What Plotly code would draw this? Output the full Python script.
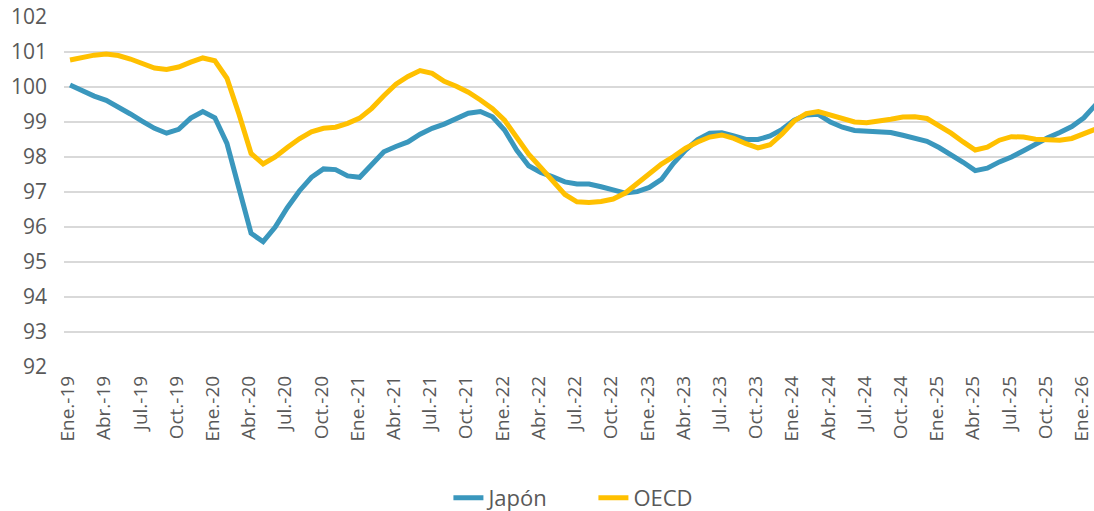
import plotly.graph_objects as go

months = ["Ene.", "Feb.", "Mar.", "Abr.", "May.", "Jun.", "Jul.", "Ago.", "Sep.", "Oct.", "Nov.", "Dic."]
years = list(range(19, 27))
categories = [f"{m}-{y}" for y in years for m in months][:86]

japon = [100.06, 99.90, 99.74, 99.62, 99.44, 99.23, 99.02, 98.82, 98.68, 98.79,
         99.11, 99.30, 99.12, 98.39, 97.10, 95.82, 95.58, 96.00, 96.55, 97.03,
         97.42, 97.66, 97.64, 97.46, 97.42, 97.77, 98.15, 98.30, 98.43, 98.65,
         98.82, 98.94, 99.09, 99.25, 99.30, 99.15, 98.77, 98.20, 97.75, 97.56,
         97.43, 97.29, 97.23, 97.23, 97.15, 97.05, 96.97, 97.01, 97.13, 97.36,
         97.82, 98.20, 98.50, 98.68, 98.69, 98.60, 98.50, 98.50, 98.60, 98.79,
         99.05, 99.20, 99.22, 99.00, 98.85, 98.76, 98.74, 98.72, 98.70, 98.62,
         98.55, 98.45, 98.27, 98.08, 97.85, 97.61, 97.68, 97.86, 98.00, 98.18,
         98.37, 98.55, 98.70, 98.87, 99.12, 99.50]

oecd = [100.77, 100.85, 100.91, 100.94, 100.90, 100.80, 100.68, 100.54, 100.50, 100.57,
        100.71, 100.83, 100.75, 100.25, 99.22, 98.10, 97.80, 98.00, 98.27, 98.52,
        98.72, 98.82, 98.85, 98.96, 99.11, 99.39, 99.75, 100.08, 100.30, 100.47,
        100.39, 100.16, 100.02, 99.85, 99.63, 99.38, 99.05, 98.55, 98.08, 97.70,
        97.30, 96.93, 96.72, 96.70, 96.73, 96.80, 96.97, 97.25, 97.55, 97.80,
        98.01, 98.25, 98.43, 98.57, 98.63, 98.53, 98.38, 98.26, 98.35, 98.66,
        99.03, 99.24, 99.30, 99.20, 99.07, 99.00, 98.98, 99.02, 99.08, 99.14,
        99.15, 99.10, 98.90, 98.68, 98.43, 98.20, 98.28, 98.48, 98.58, 98.57,
        98.51, 98.48, 98.48, 98.53, 98.65, 98.80]

tick_idx = list(range(0, 85, 3))
tick_labels = [categories[i] for i in tick_idx]
x = list(range(len(categories)))

BLUE = "#3A97BD"
YELLOW = "#FFC000"
FONT = "Open Sans"
GRAY = "#595959"

fig = go.Figure()
fig.add_trace(go.Scatter(x=x, y=japon, name="Japón", mode="lines",
                         line=dict(color=BLUE, width=5), customdata=categories,
                         hovertemplate="%{customdata}: %{y}<extra>Japón</extra>"))
fig.add_trace(go.Scatter(x=x, y=oecd, name="OECD", mode="lines",
                         line=dict(color=YELLOW, width=5), customdata=categories,
                         hovertemplate="%{customdata}: %{y}<extra>OECD</extra>"))

fig.update_layout(
    width=1094, height=511,
    margin=dict(l=64, r=0, t=17, b=144, autoexpand=False),
    paper_bgcolor="white", plot_bgcolor="white",
    font=dict(family=FONT, color=GRAY, size=20),
    showlegend=True,
    legend=dict(orientation="h", x=0.514, xanchor="center", y=-0.374, yanchor="middle",
                font=dict(size=22, color=GRAY, family=FONT),
                entrywidth=100, entrywidthmode="pixels", tracegroupgap=0),
    xaxis=dict(range=[-0.5, 84.84], tickmode="array", tickvals=tick_idx, ticktext=tick_labels,
               tickangle=-90, showgrid=False, zeroline=False, showline=False, automargin=False,
               ticklabeloverflow="allow", ticklabelshift=-2,
               ticks="", ticklabelstandoff=4, tickfont=dict(size=19, color=GRAY, family=FONT)),
    yaxis=dict(range=[92, 102], dtick=1, showgrid=True, gridcolor="#D9D9D9", gridwidth=2,
               zeroline=False, showline=False, ticks="", ticklabelstandoff=16, automargin=False,
               ticklabeloverflow="allow",
               tickfont=dict(size=21, color=GRAY, family=FONT)),
)

# remove the default 8px page margin so the figure sits at the window origin
fig.write_html("out.html", config={"displayModeBar": False},
               post_script="document.body.style.margin='0';")
